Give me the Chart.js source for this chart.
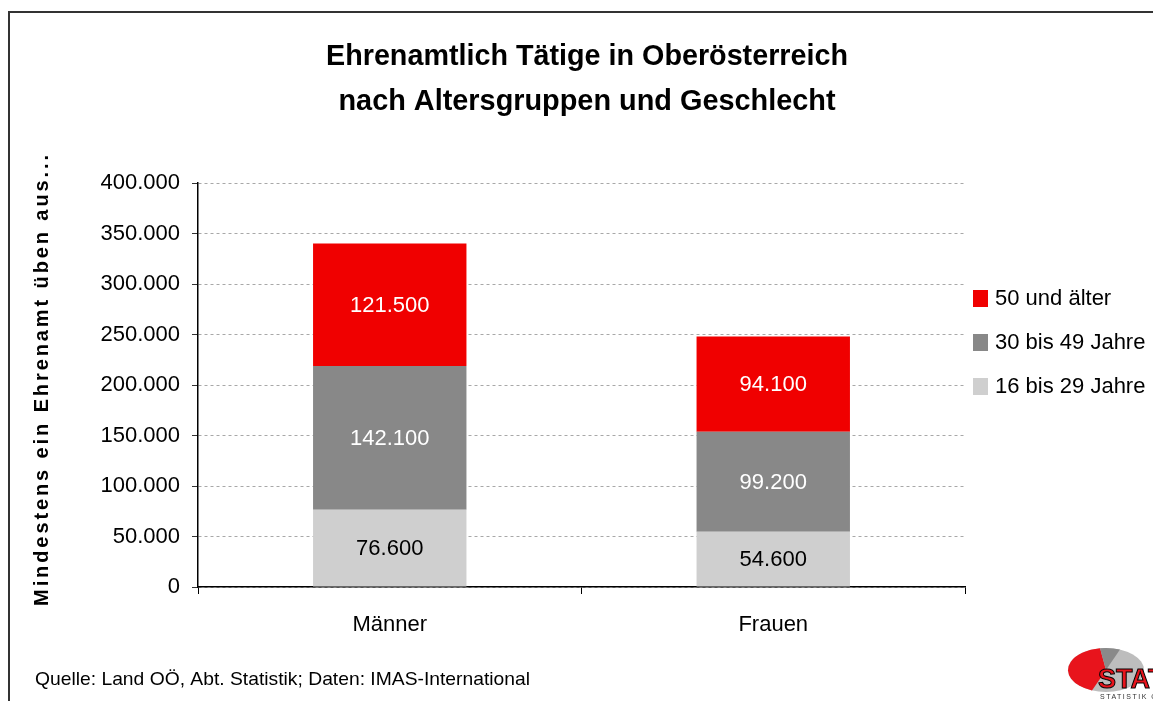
<!DOCTYPE html>
<html><head><meta charset="utf-8">
<script src="https://cdn.jsdelivr.net/npm/chart.js@4/dist/chart.umd.min.js"></script>
<style>html,body{margin:0;padding:0;background:#fff;}#wrap{width:1153px;height:701px;position:relative;}</style>
</head><body><div id="wrap"><canvas id="c" width="1153" height="701"></canvas></div>
<script>
const categories = ['Männer', 'Frauen'];
const seriesNames = ['16 bis 29 Jahre', '30 bis 49 Jahre', '50 und älter'];
const values16to29 = [76600, 54600];
const values30to49 = [142100, 99200];
const values50plus = [121500, 94100];
const yTickLabels = ['0', '50.000', '100.000', '150.000', '200.000', '250.000', '300.000', '350.000', '400.000'];
const titleLines = ['Ehrenamtlich Tätige in Oberösterreich', 'nach Altersgruppen und Geschlecht'];
const yAxisTitle = 'Mindestens ein Ehrenamt üben aus...';
const sourceText = 'Quelle: Land OÖ, Abt. Statistik; Daten: IMAS-International';

const colors = ['#cfcfcf', '#888888', '#f00000'];
const labelColors = ['#000000', '#ffffff', '#ffffff'];
const FONT = "'Liberation Sans', Arial, sans-serif";

function fmt(v) { return String(v).replace(/\B(?=(\d{3})+(?!\d))/g, '.'); }

function fitText(ctx, text, x, y, font, width, align) {
  ctx.save();
  ctx.font = font;
  const w = ctx.measureText(text).width;
  const s = width / w;
  ctx.translate(x, y);
  ctx.scale(s, 1);
  ctx.textAlign = align || 'center';
  ctx.fillText(text, 0, 0);
  ctx.restore();
}

const decor = {
  id: 'decor',
  beforeDraw(chart) {
    const ctx = chart.ctx;
    ctx.save();
    ctx.fillStyle = '#fff';
    ctx.fillRect(0, 0, chart.width, chart.height);
    ctx.strokeStyle = '#333';
    ctx.lineWidth = 2;
    ctx.beginPath();
    ctx.moveTo(9, 701); ctx.lineTo(9, 12); ctx.lineTo(1153, 12);
    ctx.stroke();
    ctx.restore();
  },
  afterDatasetsDraw(chart) {
    const ctx = chart.ctx;
    ctx.save();
    ctx.font = '22px ' + FONT;
    ctx.textAlign = 'center';
    ctx.textBaseline = 'middle';
    chart.data.datasets.forEach((ds, di) => {
      const meta = chart.getDatasetMeta(di);
      meta.data.forEach((bar, i) => {
        const p = bar.getProps(['x', 'y', 'base'], true);
        ctx.fillStyle = labelColors[di];
        ctx.fillText(fmt(ds.data[i]), p.x, (p.y + p.base) / 2 + 1);
      });
    });
    ctx.restore();
  },
  afterDraw(chart) {
    const ctx = chart.ctx;
    ctx.save();
    // Title
    ctx.fillStyle = '#000';
    ctx.textBaseline = 'alphabetic';
    fitText(ctx, titleLines[0], 587, 65, 'bold 29px ' + FONT, 522, 'center');
    fitText(ctx, titleLines[1], 587, 110, 'bold 29px ' + FONT, 497, 'center');
    // Y axis title
    ctx.save();
    ctx.translate(48, 379);
    ctx.rotate(-Math.PI / 2);
    ctx.font = 'bold 20px ' + FONT;
    ctx.letterSpacing = '2.9px';
    ctx.textAlign = 'center';
    ctx.fillText(yAxisTitle, 0, 0);
    ctx.restore();
    // Legend
    const items = [2, 1, 0];
    const ys = [298, 342, 386];
    ctx.font = '22px ' + FONT;
    ctx.textAlign = 'left';
    ctx.textBaseline = 'middle';
    items.forEach((di, k) => {
      ctx.fillStyle = colors[di];
      ctx.fillRect(973, ys[k] - 8, 15, 17);
      ctx.fillStyle = '#000';
      ctx.fillText(chart.data.datasets[di].label, 995, ys[k] + 1);
    });
    // Source
    ctx.textBaseline = 'alphabetic';
    fitText(ctx, sourceText, 35, 685, '19px ' + FONT, 495, 'left');
    // Logo
    ctx.save();
    ctx.beginPath();
    ctx.ellipse(1106, 670, 38, 22, 0, 0, Math.PI * 2);
    ctx.fillStyle = '#bdbdbd';
    ctx.fill();
    ctx.beginPath();
    ctx.moveTo(1106, 670);
    ctx.ellipse(1106, 670, 38, 22, 0, Math.PI * 0.62, Math.PI * 1.45);
    ctx.closePath();
    ctx.fillStyle = '#e8141c';
    ctx.fill();
    ctx.beginPath();
    ctx.moveTo(1106, 670);
    ctx.ellipse(1106, 670, 38, 22, 0, Math.PI * 1.45, Math.PI * 1.62);
    ctx.closePath();
    ctx.fillStyle = '#8a8a8a';
    ctx.fill();
    ctx.font = 'bold 27px ' + FONT;
    ctx.textAlign = 'left';
    ctx.fillStyle = '#e8141c';
    ctx.strokeStyle = '#000';
    ctx.lineWidth = 1;
    ctx.fillText('STAT', 1098, 688);
    ctx.strokeText('STAT', 1098, 688);
    ctx.font = '7px ' + FONT;
    ctx.letterSpacing = '1.5px';
    ctx.fillStyle = '#333';
    ctx.fillText('STATISTIK OÖ', 1100, 699);
    ctx.restore();
    ctx.restore();
  }
};

const datasets = [values16to29, values30to49, values50plus].map((d, i) => ({
  label: seriesNames[i],
  data: d,
  backgroundColor: colors[i],
  borderWidth: 0,
  barPercentage: 0.4,
  categoryPercentage: 1.0
}));

new Chart(document.getElementById('c'), {
  type: 'bar',
  data: { labels: categories, datasets },
  plugins: [decor],
  options: {
    responsive: false,
    animation: false,
    layout: { padding: { top: 183, right: 188, left: 0, bottom: 0 } },
    plugins: { legend: { display: false }, title: { display: false }, tooltip: { enabled: false } },
    scales: {
      x: {
        stacked: true,
        offset: true,
        afterFit: (s) => { s.height = 114; },
        grid: { display: true, offset: true, drawOnChartArea: false, drawTicks: true, tickLength: 7, color: '#000', lineWidth: 1 },
        border: { display: true, color: '#000', width: 1.5 },
        ticks: { color: '#000', font: { family: FONT, size: 22 }, padding: 18 }
      },
      y: {
        stacked: true,
        min: 0, max: 400000,
        afterFit: (s) => { s.width = 198; },
        afterBuildTicks: (s) => { s.ticks = yTickLabels.map((_, i) => ({ value: i * 50000 })); },
        grid: { color: '#a8a8a8', lineWidth: 1, tickLength: 6, tickColor: '#333', tickBorderDash: [] },
        border: { display: true, color: '#000', width: 1.5, dash: [3, 3] },
        ticks: { color: '#000', font: { family: FONT, size: 22 }, padding: 12, callback: (v, i) => yTickLabels[i] }
      }
    }
  }
});
</script></body></html>
